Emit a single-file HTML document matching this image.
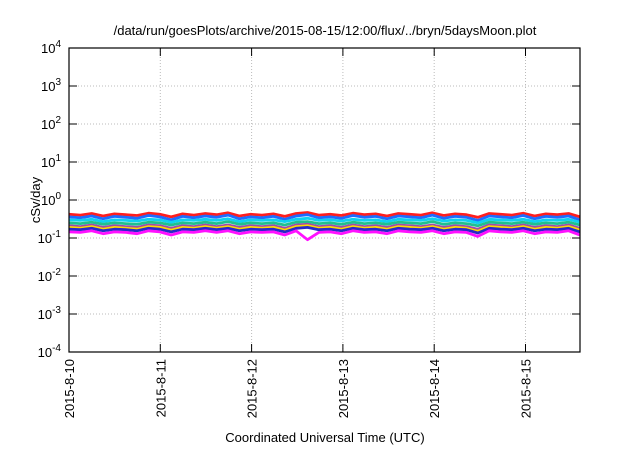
<!DOCTYPE html>
<html><head><meta charset="utf-8"><style>
body{margin:0;background:#fff;font-family:"Liberation Sans",sans-serif}
svg text{font-family:"Liberation Sans",sans-serif;fill:#000}
</style></head><body>
<svg id="c" width="640" height="448" xmlns="http://www.w3.org/2000/svg">
<text x="325" y="35" font-size="13" text-anchor="middle">/data/run/goesPlots/archive/2015-08-15/12:00/flux/../bryn/5daysMoon.plot</text>
<text x="325" y="442" font-size="13" text-anchor="middle">Coordinated Universal Time (UTC)</text>
<text transform="translate(40,200) rotate(-90)" font-size="13" text-anchor="middle">cSv/day</text>
<g id="grid"></g><g id="series"></g><g id="axes"></g>
</svg>
<script>
const xLabels=["2015-8-10","2015-8-11","2015-8-12","2015-8-13","2015-8-14","2015-8-15"];
const yExps=[4,3,2,1,0,-1,-2,-3,-4];
const red=[.42,.40,.44,.38,.43,.41,.39,.45,.42,.36,.43,.40,.44,.41,.46,.38,.42,.40,.43,.37,.44,.47,.40,.42,.39,.45,.41,.43,.38,.44,.42,.40,.46,.39,.43,.41,.35,.44,.42,.40,.45,.38,.43,.41,.44,.36];
const blue=[.36,.34,.38,.32,.37,.35,.33,.39,.36,.30,.37,.34,.38,.35,.40,.32,.36,.34,.37,.31,.38,.41,.34,.36,.33,.39,.35,.37,.32,.38,.36,.34,.40,.33,.37,.35,.29,.38,.36,.34,.39,.32,.37,.35,.38,.30];
const cyan=[.30,.29,.31,.27,.30,.29,.28,.31,.30,.26,.30,.29,.31,.29,.32,.27,.30,.29,.30,.27,.31,.33,.29,.30,.28,.31,.29,.30,.27,.31,.30,.29,.32,.28,.30,.29,.25,.31,.30,.29,.31,.27,.30,.29,.31,.26];
const teal=[.25,.24,.26,.23,.25,.24,.23,.26,.25,.22,.25,.24,.26,.24,.27,.23,.25,.24,.25,.22,.26,.27,.24,.25,.23,.26,.24,.25,.23,.26,.25,.24,.27,.23,.25,.24,.21,.26,.25,.24,.26,.23,.25,.24,.26,.22];
const purple=[.21,.20,.22,.19,.21,.20,.19,.22,.21,.18,.21,.20,.22,.20,.22,.19,.21,.20,.21,.18,.22,.23,.20,.21,.19,.22,.20,.21,.19,.22,.21,.20,.22,.19,.21,.20,.17,.22,.21,.20,.22,.19,.21,.20,.22,.18];
const yellow=[.19,.18,.20,.17,.19,.18,.17,.20,.19,.16,.19,.18,.20,.18,.20,.17,.19,.18,.19,.16,.20,.21,.18,.19,.17,.20,.18,.19,.17,.20,.19,.18,.20,.17,.19,.18,.15,.20,.19,.18,.20,.17,.19,.18,.20,.16];
const navy=[.17,.165,.18,.155,.17,.165,.155,.18,.17,.145,.17,.165,.18,.165,.18,.155,.17,.165,.17,.145,.18,.19,.165,.17,.155,.18,.165,.17,.155,.18,.17,.165,.18,.155,.17,.165,.135,.18,.17,.165,.18,.155,.17,.165,.18,.145];
const magenta=[.145,.14,.155,.13,.145,.14,.13,.155,.145,.12,.145,.14,.155,.14,.155,.13,.145,.14,.145,.12,.155,.09,.14,.145,.13,.155,.14,.145,.13,.155,.145,.14,.155,.13,.145,.14,.11,.155,.145,.14,.155,.13,.145,.14,.155,.12];
const L=69,R=580,T=48,B=352,NS="http://www.w3.org/2000/svg";
const dayPx=91.3,days=(R-L)/dayPx;
function xs(d){return L+d*dayPx;}
function ys(v){return B-(Math.log10(v)+4)/8*(B-T);}
function mk(tag,attrs,parent){const e=document.createElementNS(NS,tag);for(const k in attrs)e.setAttribute(k,attrs[k]);parent.appendChild(e);return e;}
const grid=document.getElementById('grid'),axes=document.getElementById('axes'),ser=document.getElementById('series');
yExps.forEach(p=>{const y=ys(Math.pow(10,p));
 if(p>-4&&p<4){const g=mk('line',{x1:L,x2:R,y1:y,y2:y,stroke:'#bbb','stroke-dasharray':'1,2'},grid);
 
 }
 mk('line',{x1:L,x2:L+8,y1:y,y2:y,stroke:'#000'},axes);mk('line',{x1:R-8,x2:R,y1:y,y2:y,stroke:'#000'},axes);
 const t=mk('text',{x:L-8,y:y+5,'font-size':13,'text-anchor':'end'},axes);
 
 
 t.innerHTML='10<tspan dy="-6" font-size="10">'+p+'</tspan>';});
xLabels.forEach((s,i)=>{const x=xs(i);
 if(i>0){const g=mk('line',{x1:x,x2:x,y1:T,y2:B,stroke:'#bbb','stroke-dasharray':'1,2'},grid);
 
 }
 mk('line',{x1:x,x2:x,y1:B,y2:B-8,stroke:'#000'},axes);mk('line',{x1:x,x2:x,y1:T,y2:T+8,stroke:'#000'},axes);
 const t=mk('text',{transform:`translate(${x+5},${B+7}) rotate(-90)`,'font-size':13,'text-anchor':'end'},axes);
 
 
 t.textContent=s;});
const fr=mk('rect',{x:L,y:T,width:R-L,height:B-T,fill:'none',stroke:'#000','stroke-width':1.2},axes);


const S=[[red,'#ff1e1e','red'],[blue,'#1e6cff','blue'],[cyan,'#10d0f0','cyan'],[teal,'#20c090','teal'],[purple,'#a04aa8','purple'],[yellow,'#ffd800','yellow'],[navy,'#2828c8','navy'],[magenta,'#ff10ff','magenta']];
S.forEach(([d,c,n])=>{const pts=d.map((v,i)=>xs(i*days/(d.length-1)).toFixed(1)+','+ys(v).toFixed(1)).join(' ');
 const p=mk('polyline',{points:pts,fill:'none',stroke:c,'stroke-width':2.8,'stroke-linejoin':'round'},ser);
 
 });
</script>
</body></html>
